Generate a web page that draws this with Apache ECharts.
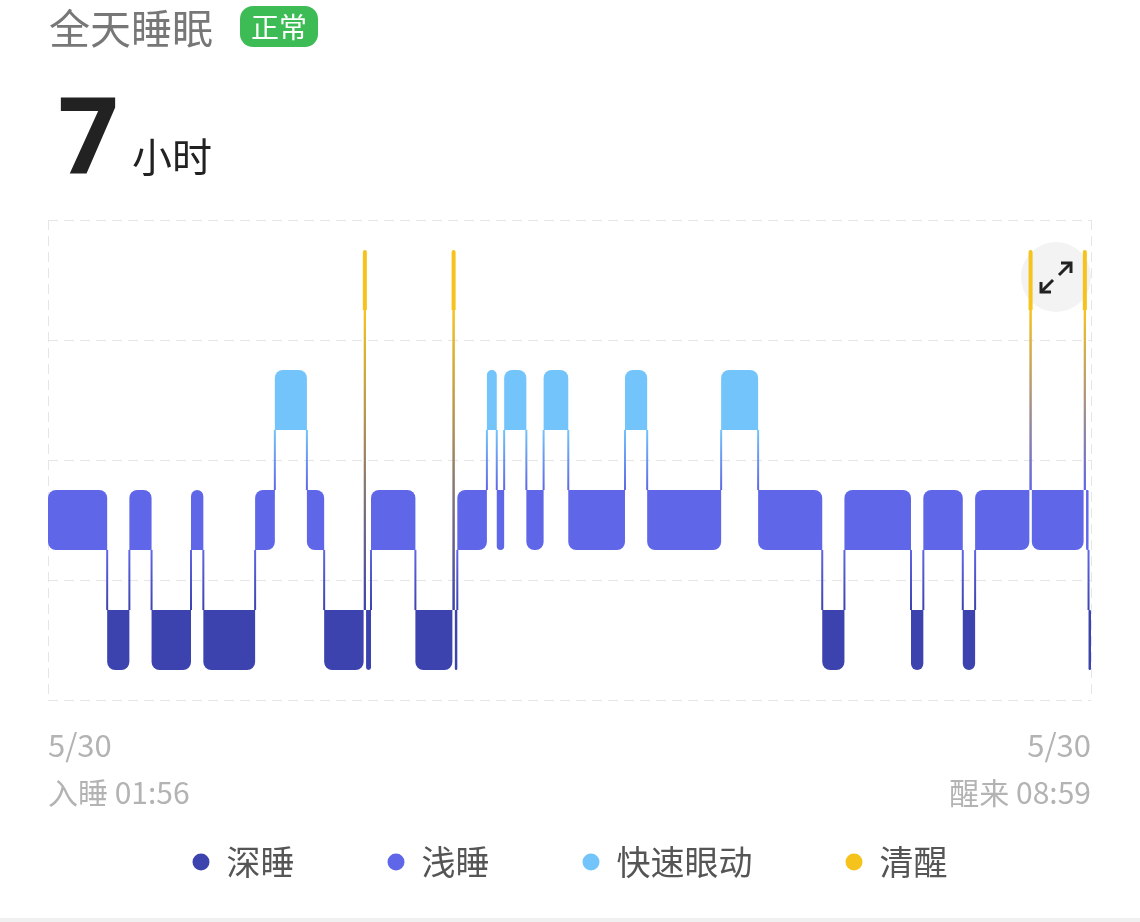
<!DOCTYPE html>
<html>
<head>
<meta charset="utf-8">
<script src="https://cdn.jsdelivr.net/npm/echarts@6/dist/echarts.min.js"></script>
<style>
html,body{margin:0;padding:0;background:#fff;}
#chart{width:1140px;height:922px;}
</style>
</head>
<body>
<div id="chart"></div>
<script>
// ---- data ----
const stageNames = ['深睡', '浅睡', '快速眼动', '清醒'];   // 0 deep, 1 light, 2 REM, 3 awake
const stageColors = ['#3c43ae', '#5f66e7', '#72c4fb', '#f6c21c'];
const totalMinutes = 423;            // 01:56 -> 08:59
// segment start minutes (relative to 01:56) and stage of each segment
const segStart = [0, 24, 33, 42, 58, 63, 84, 92, 105, 112, 128, 129, 131, 149, 164, 165, 166, 178, 182, 185,
                  194, 201, 211, 234, 243, 273, 288, 314, 323, 350, 355, 371, 376, 398, 399, 420, 421, 422];
const segStage = [1, 0, 1, 0, 1, 0, 1, 2, 1, 0, 3, 0, 1, 0, 3, 0, 1, 2, 1, 2,
                  1, 2, 1, 2, 1, 2, 1, 0, 1, 0, 1, 0, 1, 3, 1, 3, 1, 0];
const dateLabels = ['5/30', '5/30'];
const timeLabels = ['入睡 01:56', '醒来 08:59'];
const titleText = '全天睡眠';
const badgeText = '正常';
const durationValue = '7';
const durationUnit = '小时';

// ---- build series data ----
const segs = segStart.map((s, i) => ({
  start: s,
  end: i < segStart.length - 1 ? segStart[i + 1] : totalMinutes,
  stage: segStage[i],
  prev: i > 0 ? segStage[i - 1] : -1,
  next: i < segStage.length - 1 ? segStage[i + 1] : -1
}));
const transData = [];
for (let i = 0; i < segs.length - 1; i++) {
  const a = segs[i], b = segs[i + 1];
  let x = a.end;
  if (a.stage === 3) x = (a.start + a.end) / 2;
  if (b.stage === 3) x = (b.start + b.end) / 2;
  transData.push([x, a.stage, b.stage]);
}

const FONT = '"Noto Sans CJK SC", "Noto Sans", sans-serif';

function renderBar(params, api) {
  const s = api.value(0), e = api.value(1), lvl = api.value(2), prev = api.value(3), next = api.value(4);
  const p0 = api.coord([s, lvl + 0.5]);
  const p1 = api.coord([e, lvl + 0.5]);
  const h = api.size([0, 0.5])[1];
  let x = p0[0], w = p1[0] - p0[0];
  if (lvl === 3) { const c = x + w / 2; w = Math.max(w, 4); x = c - w / 2; }
  const r0 = Math.min(8, w / 2, h / 2);
  let tl = r0, tr = r0, br = r0, bl = r0;
  if (prev >= 0) { if (prev < lvl) bl = 0; else tl = 0; }
  if (next >= 0) { if (next < lvl) br = 0; else tr = 0; }
  return {
    type: 'rect',
    shape: { x: x, y: p0[1] - h / 2, width: w, height: h, r: [tl, tr, br, bl] },
    style: { fill: stageColors[lvl] }
  };
}

function renderTrans(params, api) {
  const xm = api.value(0), a = api.value(1), b = api.value(2);
  const hi = Math.max(a, b), lo = Math.min(a, b);
  const top = api.coord([xm, hi + 0.25]);
  const bot = api.coord([xm, lo + 0.75]);
  return {
    type: 'rect',
    shape: { x: top[0] - 1, y: top[1], width: 2, height: bot[1] - top[1] },
    style: {
      fill: new echarts.graphic.LinearGradient(0, 0, 0, 1, [
        { offset: 0, color: stageColors[hi] },
        { offset: 1, color: stageColors[lo] }
      ])
    }
  };
}

const stageSeries = stageNames.map((name, k) => ({
  name: name,
  type: 'custom',
  renderItem: renderBar,
  itemStyle: { color: stageColors[k] },
  encode: { x: [0, 1], y: 2 },
  z: 10,
  silent: true,
  data: segs.filter(d => d.stage === k).map(d => [d.start, d.end, d.stage, d.prev, d.next])
}));

const chart = echarts.init(document.getElementById('chart'), null, { renderer: 'canvas' });
chart.setOption({
  animation: false,
  backgroundColor: '#fff',
  grid: { left: 48, right: 49, top: 220, bottom: 222 },
  xAxis: {
    type: 'value', min: 0, max: totalMinutes, interval: totalMinutes,
    axisLine: { show: false }, axisTick: { show: false }, axisLabel: { show: false },
    splitLine: { show: true, lineStyle: { color: '#e6e6e6', type: [10, 6], width: 1 } }
  },
  yAxis: {
    type: 'value', min: 0, max: 4, interval: 1,
    axisLine: { show: false }, axisTick: { show: false }, axisLabel: { show: false },
    splitLine: { show: true, lineStyle: { color: '#e6e6e6', type: [10, 6], width: 1 } }
  },
  legend: {
    data: stageNames,
    left: 'center',
    top: 840,
    icon: 'circle',
    itemWidth: 17,
    itemHeight: 17,
    itemGap: 93,
    selectedMode: false,
    textStyle: { fontSize: 34, color: '#555', fontFamily: FONT, padding: [0, 0, 0, 12] }
  },
  graphic: [
    { type: 'text', left: 49, top: 8, style: { text: titleText, fontSize: 41, fill: '#777', fontFamily: FONT } },
    { type: 'rect', shape: { x: 240, y: 6, width: 78, height: 41, r: 13 }, style: { fill: '#3dbc56' } },
    { type: 'text', x: 279, y: 27, style: { text: badgeText, fontSize: 28, fill: '#fff', fontFamily: FONT, align: 'center', verticalAlign: 'middle' } },
    { type: 'text', x: 58, y: 143, style: { text: durationValue, fontSize: 106, fontWeight: 'bold', fill: '#222', fontFamily: '"Noto Sans", sans-serif', verticalAlign: 'middle' } },
    { type: 'text', x: 132, y: 157, style: { text: durationUnit, fontSize: 40, fill: '#222', fontFamily: FONT, verticalAlign: 'middle' } },
    { type: 'circle', shape: { cx: 1056, cy: 277, r: 35 }, style: { fill: '#f3f3f3' }, z: 1 },
    { type: 'polyline', shape: { points: [[1059, 275], [1071, 263]] }, style: { stroke: '#222', lineWidth: 3, fill: null }, z: 2 },
    { type: 'polyline', shape: { points: [[1061, 263], [1071, 263], [1071, 273]] }, style: { stroke: '#222', lineWidth: 3, fill: null }, z: 2 },
    { type: 'polyline', shape: { points: [[1053, 280], [1041, 292]] }, style: { stroke: '#222', lineWidth: 3, fill: null }, z: 2 },
    { type: 'polyline', shape: { points: [[1041, 282], [1041, 292], [1051, 292]] }, style: { stroke: '#222', lineWidth: 3, fill: null }, z: 2 },
    { type: 'text', x: 48, y: 745, style: { text: dateLabels[0], fontSize: 31, fill: '#b3b3b3', fontFamily: FONT, verticalAlign: 'middle' } },
    { type: 'text', x: 48, y: 793, style: { text: timeLabels[0], fontSize: 30, fill: '#b3b3b3', fontFamily: FONT, verticalAlign: 'middle' } },
    { type: 'text', x: 1091, y: 745, style: { text: dateLabels[1], fontSize: 31, fill: '#b3b3b3', fontFamily: FONT, align: 'right', verticalAlign: 'middle' } },
    { type: 'text', x: 1091, y: 793, style: { text: timeLabels[1], fontSize: 30, fill: '#b3b3b3', fontFamily: FONT, align: 'right', verticalAlign: 'middle' } },
    { type: 'rect', shape: { x: 0, y: 918, width: 1140, height: 4 }, style: { fill: '#f0f0f0' } }
  ],
  series: [
    {
      name: 'transitions',
      type: 'custom',
      renderItem: renderTrans,
      encode: { x: 0, y: [1, 2] },
      z: 5,
      silent: true,
      data: transData
    }
  ].concat(stageSeries)
});
</script>
</body>
</html>
